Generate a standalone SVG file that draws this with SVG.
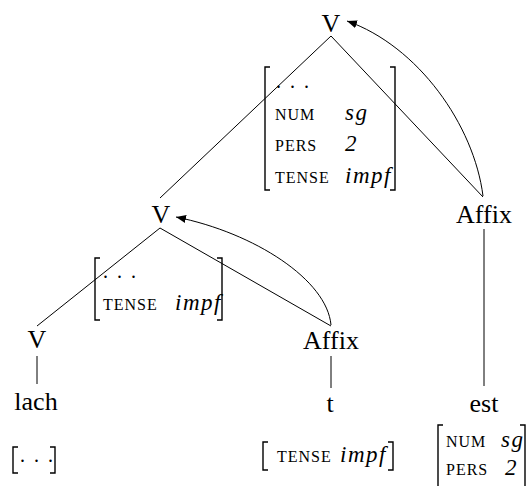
<svg xmlns="http://www.w3.org/2000/svg" width="531" height="486" viewBox="0 0 531 486" font-family="'Liberation Serif', 'DejaVu Serif', serif">
  <style>
    .node { font-family: "Liberation Serif", "DejaVu Serif", serif; font-size: 26px; fill: #000; text-anchor: middle; }
    .feat { font-family: "Liberation Serif", "DejaVu Serif", serif; font-size: 16px; letter-spacing: 1px; fill: #000; }
    .val { font-family: "Liberation Serif", "DejaVu Serif", serif; font-size: 23px; font-style: italic; letter-spacing: 1.5px; fill: #000; }
    .dots { font-family: "Liberation Serif", "DejaVu Serif", serif; font-size: 20px; letter-spacing: 2px; fill: #000; }
    .brk { fill: none; stroke: #000; stroke-width: 1.4; }
    .edge { fill: none; stroke: #000; stroke-width: 1; }
    .mv { fill: none; stroke: #000; stroke-width: 1; marker-end: url(#head); }
  </style>
  <defs>
    <marker id="head" viewBox="0 0 10 8" refX="10" refY="4" markerWidth="10" markerHeight="8" markerUnits="userSpaceOnUse" orient="auto">
      <path d="M0,0 L10,4 L0,8 Z" fill="#000"/>
    </marker>
  </defs>

  <!-- tree edges and movement arrows -->
  <g id="connectors">
    <line class="edge" x1="331" y1="36" x2="160" y2="198"/>
    <line class="edge" x1="331" y1="36" x2="483" y2="197"/>
    <line class="edge" x1="160" y1="228" x2="37" y2="326"/>
    <line class="edge" x1="160" y1="228" x2="331" y2="326"/>
    <line class="edge" x1="37" y1="356" x2="37" y2="384"/>
    <line class="edge" x1="331" y1="356" x2="331" y2="388"/>
    <line class="edge" x1="484" y1="229" x2="484" y2="386"/>
    <path class="mv" d="M483,196 C 474,125 418,46 347,21"/>
    <path class="mv" d="M331,325 C 327,280 255,233 176,217"/>
  </g>

  <g id="v-top">
    <text class="node" x="331" y="32">V</text>
    <path class="brk" d="M270,67 H265 V190 H270"/>
    <path class="brk" d="M390,67 H395 V190 H390"/>
    <text class="dots" x="276" y="88">. . .</text>
    <text class="feat" x="275" y="120">NUM</text>
    <text class="val" x="345" y="120">sg</text>
    <text class="feat" x="275" y="151">PERS</text>
    <text class="val" x="345" y="151">2</text>
    <text class="feat" x="275" y="183">TENSE</text>
    <text class="val" x="345" y="183">impf</text>
  </g>

  <g id="v-mid">
    <text class="node" x="161" y="223">V</text>
    <path class="brk" d="M100,258 H95 V320 H100"/>
    <path class="brk" d="M217,258 H222 V320 H217"/>
    <text class="dots" x="103" y="278">. . .</text>
    <text class="feat" x="103" y="310">TENSE</text>
    <text class="val" x="175" y="310">impf</text>
  </g>

  <g id="affix-top">
    <text class="node" x="484" y="223">Affix</text>
  </g>

  <g id="v-low">
    <text class="node" x="37" y="348">V</text>
  </g>

  <g id="affix-low">
    <text class="node" x="331" y="349">Affix</text>
  </g>

  <g id="lach">
    <text class="node" x="36" y="410">lach</text>
    <path class="brk" d="M18,447 H13 V473 H18"/>
    <path class="brk" d="M50,447 H55 V473 H50"/>
    <text class="dots" x="20" y="462">. . .</text>
  </g>

  <g id="t">
    <text class="node" x="330" y="412">t</text>
    <path class="brk" d="M268,442 H263 V470 H268"/>
    <path class="brk" d="M388,442 H393 V470 H388"/>
    <text class="feat" x="277" y="462">TENSE</text>
    <text class="val" x="340" y="462">impf</text>
  </g>

  <g id="est">
    <text class="node" x="484" y="412">est</text>
    <path class="brk" d="M443,425 H438 V492"/>
    <path class="brk" d="M520,425 H525 V492"/>
    <text class="feat" x="446" y="447">NUM</text>
    <text class="val" x="501" y="447">sg</text>
    <text class="feat" x="446" y="475">PERS</text>
    <text class="val" x="505" y="475">2</text>
  </g>
</svg>
